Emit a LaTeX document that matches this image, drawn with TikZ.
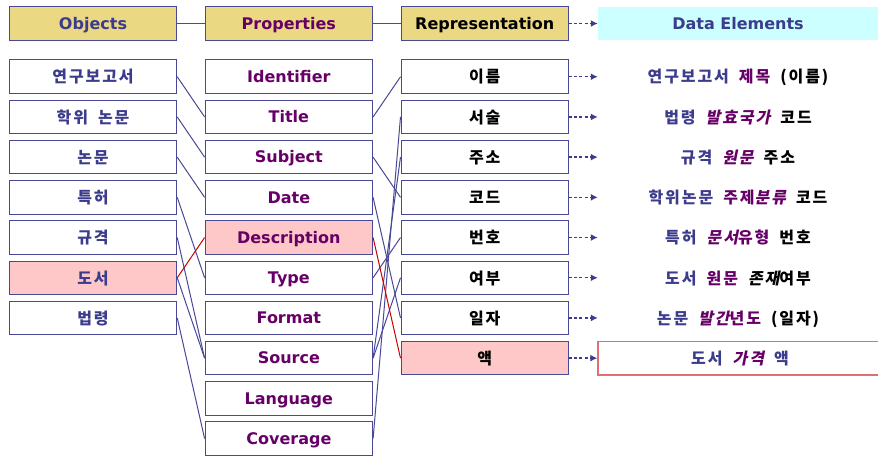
\documentclass[tikz,border=0pt]{standalone}
\usepackage{fontspec}
\setmainfont{DejaVu Sans}
\newfontfamily\kr[LetterSpace=12,WordSpace=1.8]{Noto Sans CJK KR}
\newfontfamily\krsl[FakeSlant=0.2,LetterSpace=12,WordSpace=1.8]{Noto Sans CJK KR}
\usetikzlibrary{arrows.meta}
\definecolor{boxline}{RGB}{72,72,150}
\definecolor{objtext}{RGB}{60,60,140}
\definecolor{proptext}{RGB}{102,0,102}
\definecolor{headfill}{RGB}{235,216,130}
\definecolor{cyanfill}{RGB}{204,255,255}
\definecolor{pinkfill}{RGB}{255,200,200}
\definecolor{redline}{RGB}{204,0,0}
\definecolor{redbox}{RGB}{224,112,112}
\newcommand{\ob}[1]{{\color{objtext}#1}}
\newcommand{\pr}[1]{{\color{proptext}#1}}
\newcommand{\pri}[1]{{\krsl\color{proptext}#1}}
\begin{document}
\begin{tikzpicture}[x=1pt,y=-1pt,
  box/.style={draw=boxline, line width=1pt, minimum width=167.5pt, minimum height=33.5pt, inner sep=0pt, text height=11.5pt, text depth=0pt, font=\fontsize{16}{18}\selectfont\bfseries},
  headbox/.style={box, fill=headfill},
  objbox/.style={box, text=objtext, font=\kr\fontsize{16}{18}\selectfont\bfseries, text height=12.5pt},
  propbox/.style={box, text=proptext},
  repbox/.style={box, font=\kr\fontsize{16}{18}\selectfont\bfseries, text height=12.5pt},
  elem/.style={minimum width=280pt, minimum height=33.5pt, inner sep=0pt, text height=12.5pt, text depth=0pt, font=\kr\fontsize{16}{18}\selectfont\bfseries},
  link/.style={draw=boxline, line width=1pt},
  redlink/.style={draw=redline, line width=1pt},
  dasharrow/.style={draw=objtext, line width=1.4pt, dash pattern=on 3pt off 2.2pt, -{Latex[length=7pt,width=7pt]}}]
\useasboundingbox (0,0) rectangle (878,457);
% headings
\node[headbox, text=objtext] (hobj) at (93,23.5) {Objects};
\node[headbox, text=proptext] (hprop) at (288.85,23.5) {Properties};
\node[headbox] (hrep) at (484.75,23.5) {Representation};
\node[elem, fill=cyanfill, text=objtext, text height=11.5pt, font=\fontsize{16}{18}\selectfont\bfseries] (hel) at (738,23.5) {Data Elements};
\draw[link] (hobj) -- (hprop);
\draw[link] (hprop) -- (hrep);
\draw[dasharrow] (hrep) -- (hel);
% objects
\node[objbox] (obj1) at (93,76.75) {연구보고서};
\node[objbox] (obj2) at (93,116.95) {학위 논문};
\node[objbox] (obj3) at (93,157.15) {논문};
\node[objbox] (obj4) at (93,197.35) {특허};
\node[objbox] (obj5) at (93,237.55) {규격};
\node[objbox, fill=pinkfill] (obj6) at (93,277.75) {도서};
\node[objbox] (obj7) at (93,317.95) {법령};
% properties
\node[propbox] (prop1) at (288.85,76.75) {Identifier};
\node[propbox] (prop2) at (288.85,116.95) {Title};
\node[propbox] (prop3) at (288.85,157.15) {Subject};
\node[propbox] (prop4) at (288.85,197.35) {Date};
\node[propbox, fill=pinkfill] (prop5) at (288.85,237.55) {Description};
\node[propbox] (prop6) at (288.85,277.75) {Type};
\node[propbox] (prop7) at (288.85,317.95) {Format};
\node[propbox] (prop8) at (288.85,358.15) {Source};
\node[propbox] (prop9) at (288.85,398.35) {Language};
\node[propbox] (prop10) at (288.85,438.55) {Coverage};
% representation
\node[repbox] (rep1) at (484.75,76.75) {이름};
\node[repbox] (rep2) at (484.75,116.95) {서술};
\node[repbox] (rep3) at (484.75,157.15) {주소};
\node[repbox] (rep4) at (484.75,197.35) {코드};
\node[repbox] (rep5) at (484.75,237.55) {번호};
\node[repbox] (rep6) at (484.75,277.75) {여부};
\node[repbox] (rep7) at (484.75,317.95) {일자};
\node[repbox, fill=pinkfill] (rep8) at (484.75,358.15) {액};
% data elements
\node[elem] (el1) at (738,76.75) {\ob{연구보고서} \pr{제목} (이름)};
\node[elem] (el2) at (738,116.95) {\ob{법령} \pri{발효국가} 코드};
\node[elem] (el3) at (738,157.15) {\ob{규격} \pri{원문} 주소};
\node[elem] (el4) at (738,197.35) {\ob{학위논문} \pr{주제}\pri{분류} 코드};
\node[elem] (el5) at (738,237.55) {\ob{특허} \pri{문서}\pr{유형} 번호};
\node[elem] (el6) at (738,277.75) {\ob{도서} \pr{원문} {\krsl 존재}여부};
\node[elem] (el7) at (738,317.95) {\ob{논문} \pri{발간}\pr{년도} (일자)};
\node[elem, draw=redbox, line width=1.3pt, minimum width=284pt] (el8) at (740,358.15) {\ob{도서} \pri{가격} \ob{액}};
% objects to properties
\draw[link] (obj1.east) -- (prop2.west);
\draw[link] (obj2.east) -- (prop3.west);
\draw[link] (obj3.east) -- (prop4.west);
\draw[link] (obj4.east) -- (prop6.west);
\draw[link] (obj5.east) -- (prop8.west);
\draw[link] (obj6.east) -- (prop8.west);
\draw[link] (obj7.east) -- (prop10.west);
\draw[redlink] (obj6.east) -- (prop5.west);
% properties to representation
\draw[link] (prop2.east) -- (rep1.west);
\draw[link] (prop3.east) -- (rep4.west);
\draw[link] (prop4.east) -- (rep7.west);
\draw[link] (prop6.east) -- (rep5.west);
\draw[link] (prop8.east) -- (rep3.west);
\draw[link] (prop8.east) -- (rep6.west);
\draw[link] (prop10.east) -- (rep2.west);
\draw[redlink] (prop5.east) -- (rep8.west);
% representation to data elements
\draw[dasharrow] (rep1.east) -- (el1.west);
\draw[dasharrow] (rep2.east) -- (el2.west);
\draw[dasharrow] (rep3.east) -- (el3.west);
\draw[dasharrow] (rep4.east) -- (el4.west);
\draw[dasharrow] (rep5.east) -- (el5.west);
\draw[dasharrow] (rep6.east) -- (el6.west);
\draw[dasharrow] (rep7.east) -- (el7.west);
\draw[dasharrow] (rep8.east) -- (el8.west);
\end{tikzpicture}
\end{document}
